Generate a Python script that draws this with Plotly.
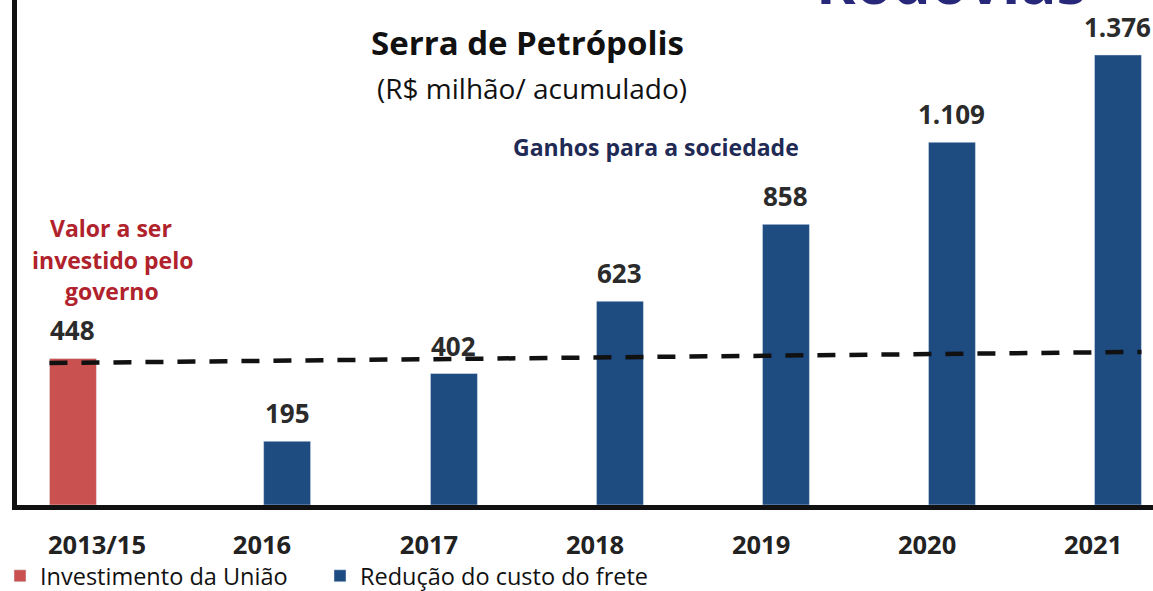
import plotly.graph_objects as go

categories = ["2013/15", "2016", "2017", "2018", "2019", "2020", "2021"]
bar_pos = [0, 1.29, 2.295, 3.295, 4.295, 5.295, 6.295]
label_pos = [0.145, 1.139, 2.145, 3.145, 4.145, 5.145, 6.145]
invest_values = [448]
frete_values = [195, 402, 623, 858, 1109, 1376]
ref_line_values = [434, 468]

red = "#c9514f"
blue = "#1e4b80"
font = "Open Sans"
bar_w = 0.283

L, B = 17, 86
W, H = 1153, 591
PW, PH = W - L, H - B

fig = go.Figure()
fig.add_trace(go.Bar(
    x=bar_pos[:1], y=invest_values, width=bar_w, marker_color=red,
    name="Investimento da União", legend="legend"))
fig.add_trace(go.Bar(
    x=bar_pos[1:], y=frete_values, width=bar_w, marker_color=blue,
    name="Redução do custo do frete", legend="legend2"))
fig.add_trace(go.Scatter(
    x=[bar_pos[0] - bar_w / 2, bar_pos[-1] + bar_w / 2], y=ref_line_values,
    mode="lines", line=dict(color="#111111", width=4.5, dash="18px,14px"),
    showlegend=False, hoverinfo="skip"))

all_vals = invest_values + frete_values
for xp, v in zip(bar_pos, all_vals):
    txt = f"{v:,}".replace(",", ".")
    fig.add_annotation(x=xp, y=v, text=f"<b>{txt}</b>", showarrow=False,
                       yanchor="middle", yshift=28,
                       font=dict(family=font, size=26, color="#2b2b2b"))

def pa(xpx, ypx, text, size, color, bold=True):
    fig.add_annotation(xref="paper", yref="paper",
                       x=(xpx - L) / PW, y=1 - ypx / PH,
                       text=f"<b>{text}</b>" if bold else text,
                       showarrow=False, xanchor="center", yanchor="middle",
                       font=dict(family=font, size=size, color=color))

pa(527, 43, "Serra de Petrópolis", 33, "#111111")
pa(532, 88, "(R$ milhão/ acumulado)", 28, "#111111", bold=False)
pa(656, 147, "Ganhos para a sociedade", 23, "#1f2a55")
pa(111, 228, "Valor a ser", 23, "#b0222c")
pa(112, 260, "investido pelo", 23, "#b0222c")
pa(112, 291, "governo", 23, "#b0222c")

fig.add_annotation(xref="paper", yref="paper", x=(951 - L) / PW, y=1 - 24 / PH,
                   text="<b>Rodovias</b>", showarrow=False, xanchor="center",
                   yanchor="bottom",
                   font=dict(family=font, size=60, color="#28287a"))

leg_common = dict(orientation="h", xanchor="left", yref="container", xref="container",
                  yanchor="middle", itemwidth=30, bgcolor="rgba(0,0,0,0)",
                  font=dict(family=font, size=23.5, color="#111111"))

fig.update_layout(
    width=W, height=H,
    margin=dict(l=L, r=0, t=0, b=B, autoexpand=False),
    plot_bgcolor="white", paper_bgcolor="white",
    showlegend=True,
    legend=dict(x=-2 / W, y=15 / H, **leg_common),
    legend2=dict(x=320 / W, y=15 / H, **leg_common),
    barmode="overlay",
)
fig.update_xaxes(range=[-0.337, 6.506], tickvals=label_pos,
                 ticktext=[f"<b>{c}</b>" for c in categories],
                 showline=True, linecolor="#111111", linewidth=4.5, showgrid=False,
                 zeroline=False, ticks="", ticklabelstandoff=14,
                 tickfont=dict(family=font, size=25.5, color="#222222"))
fig.update_yaxes(range=[0, 1544], showline=True, linecolor="#111111", linewidth=4.5,
                 showgrid=False, zeroline=False, showticklabels=False, ticks="")

fig.write_html("out.html", config={"displayModeBar": False},
               post_script="document.body.style.margin='0';document.body.style.overflow='hidden';")
